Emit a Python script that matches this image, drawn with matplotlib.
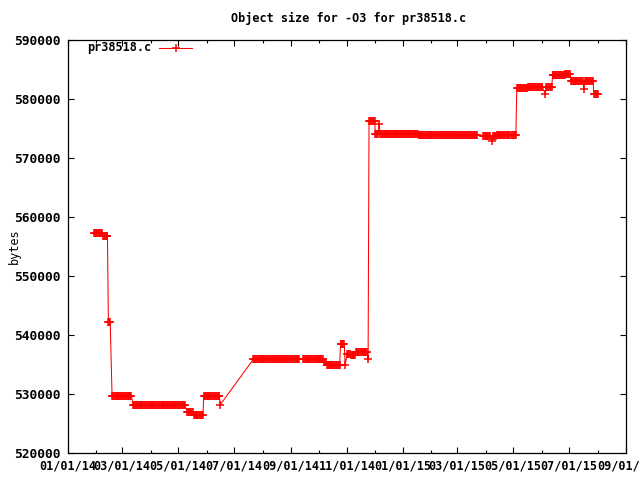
import matplotlib
matplotlib.use('Agg')
import matplotlib.pyplot as plt
import matplotlib.dates as mdates
import pandas as pd

# runs of daily builds with the same object size
run_start = ['2014-01-29', '2014-02-08', '2014-02-14', '2014-02-18', '2014-03-13',
             '2014-05-11', '2014-05-18', '2014-05-29', '2014-07-22', '2014-09-14',
             '2014-10-07', '2014-10-10', '2014-10-25', '2014-11-01', '2014-11-05',
             '2014-11-11', '2014-11-25', '2014-12-02', '2014-12-07', '2015-01-18',
             '2015-03-29', '2015-04-09', '2015-04-13', '2015-04-29', '2015-05-05',
             '2015-05-17', '2015-05-23', '2015-06-06', '2015-06-13', '2015-06-27',
             '2015-07-03', '2015-07-18', '2015-07-28']
run_end = ['2014-02-07', '2014-02-13', '2014-02-16', '2014-03-11', '2014-05-08',
           '2014-05-17', '2014-05-28', '2014-06-15', '2014-09-10', '2014-10-06',
           '2014-10-09', '2014-10-24', '2014-10-29', '2014-11-04', '2014-11-10',
           '2014-11-23', '2014-12-01', '2014-12-05', '2015-01-17', '2015-03-23',
           '2015-04-06', '2015-04-12', '2015-04-27', '2015-05-04', '2015-05-16',
           '2015-05-22', '2015-06-02', '2015-06-12', '2015-06-26', '2015-07-02',
           '2015-07-16', '2015-07-27', '2015-08-01']
run_size = [557300, 556700, 542200, 529700, 528200,
            527000, 526500, 529600, 535900, 535900,
            535400, 535000, 538500, 536700, 536600,
            537100, 576200, 574100, 574100, 573900,
            573800, 573800, 573900, 573900, 581800,
            582100, 582000, 582000, 584000, 584300,
            583100, 583100, 580900]

# single builds off the runs
single_date = ['2014-06-16', '2014-10-30', '2014-11-24', '2014-12-06',
               '2015-04-08', '2015-06-05', '2015-07-17']
single_size = [528200, 534900, 536000, 575700,
               572900, 580800, 581700]

rows = []
for s, e, v in zip(run_start, run_end, run_size):
    for d in pd.date_range(s, e, freq='D'):
        rows.append((d, v))
for d, v in zip(single_date, single_size):
    rows.append((pd.Timestamp(d), v))
df = pd.DataFrame(rows, columns=['date', 'size']).sort_values('date')

plt.rcParams['font.family'] = 'DejaVu Sans Mono'
plt.rcParams['font.weight'] = 'bold'
plt.rcParams['font.size'] = 8.5

fig = plt.figure(figsize=(6.4, 4.8), dpi=100)
ax = fig.add_axes([68 / 640, 27 / 480, 558 / 640, 413 / 480])

ax.plot(df['date'], df['size'], color='red', linewidth=0.75,
        marker='+', markersize=5.5, markeredgewidth=1.1)

ax.set_xlim(pd.Timestamp('2014-01-01'), pd.Timestamp('2015-09-01'))
ax.set_ylim(520000, 590000)
ax.set_yticks(range(520000, 590001, 10000))
ax.xaxis.set_major_locator(mdates.MonthLocator(interval=2))
ax.xaxis.set_minor_locator(mdates.MonthLocator())
ax.xaxis.set_major_formatter(mdates.DateFormatter('%m/%d/%y'))

ax.tick_params(which='both', direction='in', top=True, right=True, width=0.8, colors='black')
ax.tick_params(which='major', length=4.5, pad=5)
ax.tick_params(which='minor', length=2.5)
ax.tick_params(axis='y', labelsize=9.3)
for sp in ax.spines.values():
    sp.set_linewidth(0.9)

fig.text(349 / 640, 1 - 18 / 480, 'Object size for -O3 for pr38518.c',
         ha='center', va='center')
ax.set_ylabel('bytes')
ax.yaxis.set_label_coords((21 - 68) / 558, 0.5)

# key, gnuplot style: title then sample
ax.text((151 - 68) / 558, 1 - 8 / 413, 'pr38518.c', transform=ax.transAxes,
        ha='right', va='center')
ax.plot([(159 - 68) / 558, (192 - 68) / 558], [1 - 8 / 413] * 2, transform=ax.transAxes,
        color='red', linewidth=0.75)
ax.plot([(176 - 68) / 558], [1 - 8 / 413], transform=ax.transAxes, color='red',
        marker='+', markersize=5.5, markeredgewidth=1.1)

fig.savefig('out.png', dpi=100)
